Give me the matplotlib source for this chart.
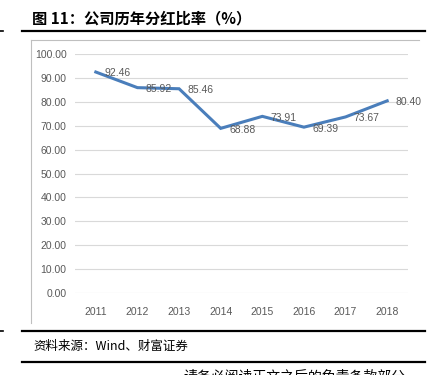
import matplotlib
matplotlib.use('Agg')
import matplotlib.pyplot as plt
from matplotlib.lines import Line2D

years = ['2011', '2012', '2013', '2014', '2015', '2016', '2017', '2018']
payout = [92.46, 85.92, 85.46, 68.88, 73.91, 69.39, 73.67, 80.40]
yticks = [0, 10, 20, 30, 40, 50, 60, 70, 80, 90, 100]

W, H = 432, 375
fig = plt.figure(figsize=(W / 100, H / 100), dpi=100)
cjk = ['Noto Sans CJK SC', 'DejaVu Sans']
gray = '#595959'

def fx(px):
    return px / W

def fy(px):
    return 1 - px / H

# title and rules
fig.text(fx(32), fy(18), '图 11：公司历年分红比率（%）', family=cjk, fontsize=11,
         fontweight='bold', va='center', ha='left', color='black')
for y in (31, 331, 362):
    fig.add_artist(Line2D([fx(22), fx(425)], [fy(y), fy(y)], color='black', lw=1.6))
for y in (31, 331):
    fig.add_artist(Line2D([fx(0), fx(3)], [fy(y), fy(y)], color='black', lw=1.2))

# chart frame (left and top edge visible)
fig.add_artist(Line2D([fx(31), fx(31)], [fy(40), fy(323)], color='#bfbfbf', lw=0.8))
fig.add_artist(Line2D([fx(31), fx(419)], [fy(40), fy(40)], color='#bfbfbf', lw=0.8))

ax = fig.add_axes([fx(75), fy(293), fx(408) - fx(75), fy(54) - fy(293)])
x = list(range(len(years)))
ax.plot(x, payout, color='#4a7ebb', lw=2.2, solid_joinstyle='miter')
for xi, v in zip(x, payout):
    ax.annotate(f'{v:.2f}', (xi, v), xytext=(6, -1), textcoords='offset points',
                ha='left', va='center', fontsize=7.5, color=gray, family='Liberation Sans')

ax.set_xlim(-0.5, 7.5)
ax.set_ylim(0, 100)
ax.set_yticks(yticks)
ax.set_yticklabels([f'{t:.2f}' for t in yticks], family='Liberation Sans', fontsize=7.5, color=gray)
ax.set_xticks(x)
ax.set_xticklabels(years, family='Liberation Sans', fontsize=7.5, color=gray)
ax.tick_params(length=0, pad=6)
ax.tick_params(axis='x', pad=10)
ax.grid(axis='y', color='#d9d9d9', lw=0.8)
ax.set_axisbelow(True)
for s in ax.spines.values():
    s.set_visible(False)

fig.text(fx(33), fy(346), '资料来源：Wind、财富证券', family=cjk, fontsize=9,
         style='italic', va='center', ha='left', color='black')
fig.text(fx(183), fy(370), '请务必阅读正文之后的免责条款部分', family=cjk, fontsize=10,
         va='top', ha='left', color='black')

fig.savefig('out.png', dpi=100)
